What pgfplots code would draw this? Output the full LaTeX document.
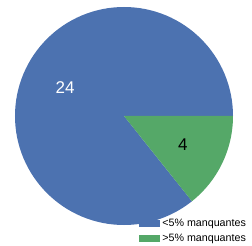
\documentclass[border=0pt]{standalone}
\usepackage{pgfplots}
\pgfplotsset{compat=1.18}
\usepackage{fontspec}
\setmainfont{Liberation Sans}
\definecolor{pieblue}{HTML}{4C72B0}
\definecolor{piegreen}{HTML}{55A868}
\begin{document}
\begin{tikzpicture}
\useasboundingbox (0,0) rectangle (252bp,246bp);
\def\va{24}
\def\vb{4}
\pgfmathsetmacro{\total}{\va+\vb}
\pgfmathsetmacro{\angA}{360*\va/\total}
\pgfmathsetmacro{\midA}{\angA/2}
\pgfmathsetmacro{\midB}{(\angA+360)/2}
\begin{axis}[
  hide axis, scale only axis, width=218bp, height=218bp,
  xmin=-1, xmax=1, ymin=-1, ymax=1,
  anchor=center, at={(124bp,130bp)},
  clip=false,
  legend style={draw=none, fill=none, font=\fontsize{10.7bp}{13bp}\selectfont,
    at={(1.083,-0.100)}, anchor=south east, row sep=1.5bp},
  legend cell align=left,
  legend image code/.code={\fill[#1, draw=none] (-6bp,-3.5bp) rectangle (15bp,3.5bp);},
]
\fill[pieblue] (axis cs:0,0) -- (axis cs:1,0) arc[start angle=0, end angle=\angA, radius=109bp] -- cycle;
\fill[piegreen] (axis cs:0,0) -- (axis cs:{cos(\angA)},{sin(\angA)}) arc[start angle=\angA, end angle=360, radius=109bp] -- cycle;
\node[white, font=\fontsize{17bp}{20bp}\selectfont] at (axis cs:{0.6*cos(\midA)},{0.6*sin(\midA)}) {\va};
\node[black, font=\fontsize{17bp}{20bp}\selectfont] at (axis cs:{0.6*cos(\midB)},{0.6*sin(\midB)}) {\vb};
\addlegendimage{fill=pieblue, draw=none}
\addlegendentry{<5\% manquantes}
\addlegendimage{fill=piegreen, draw=none}
\addlegendentry{>5\% manquantes}
\end{axis}
\end{tikzpicture}
\end{document}
